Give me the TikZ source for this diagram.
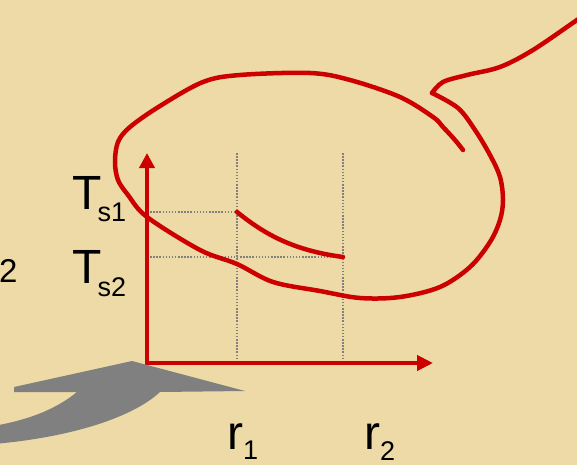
\documentclass[tikz,border=0pt]{standalone}
\usepackage{fontspec}
\setmainfont{Liberation Sans}
\usetikzlibrary{arrows.meta, positioning}
\definecolor{papyrus}{RGB}{237,218,166}
\definecolor{penred}{RGB}{204,0,0}
\definecolor{shadegray}{RGB}{128,128,128}
\newcommand{\symsub}[4]{#1\kern#4\lower#3\hbox{\fontsize{27}{27}\selectfont #2}}

\begin{document}
\begin{tikzpicture}[x=1pt, y=-1pt,
    axis/.style={line width=4.5pt, color=penred,
        {Triangle[length=15pt, width=15pt]}-{Triangle[length=16pt, width=15pt]}},
    guide/.style={line width=1.6pt, color=shadegray, dash pattern=on 1.5pt off 1.6pt},
    pen/.style={line width=4.5pt, color=penred, line cap=round, line join=round},
    lbl/.style={font=\fontsize{48}{48}\selectfont, inner sep=0pt, anchor=base west}
]
    \useasboundingbox (0,0) rectangle (577,465);
    \fill[papyrus] (0,0) rectangle (577,465);

    \coordinate (O) at (147,363);
    \coordinate (ytip) at (147,153);
    \coordinate (xtip) at (433,363);
    \coordinate (r1top) at (237,153);
    \coordinate (r1foot) at (237,363);
    \coordinate (r2top) at (343,153);
    \coordinate (r2foot) at (343,363);
    \coordinate (t1axis) at (147,212);
    \coordinate (t2axis) at (147,257);
    \coordinate (t1pt) at (237,212);
    \coordinate (t2pt) at (343,257);

    \draw[guide] (r1top) -- (r1foot);
    \draw[guide] (r2top) -- (r2foot);
    \draw[guide] (t1axis) -- (t1pt);
    \draw[guide] (t2axis) -- (t2pt);

    \draw[axis] (ytip) -- (O) -- (xtip);

    \draw[pen] (t1pt) .. controls (262,232) and (290,250) .. (t2pt);

    \draw[pen] plot[smooth, tension=0.55] coordinates {
        (463,150) (455,140) (443,127) (433,117) (400,97) (350,80) (310,73)
        (240,75) (203,82) (160,106) (130,127) (118,142) (115,162) (118,180)
        (128,195) (147,217) (200,250) (237,264) (273,282) (320,291) (360,298)
        (400,297) (440,287) (470,267) (490,242) (500,220) (503,200) (500,177)
        (490,155) (475,130) (458,108) (432,93)};
    \draw[pen] plot[smooth, tension=0.55] coordinates {
        (432,93) (443,82) (467,75) (500,67) (533,50) (577,20) (592,10)};

    \fill[shadegray] (-20,445) .. controls (60,440) and (130,420) .. (160,392)
        -- (245,391) -- (132,361) -- (14,387) -- (14,392) -- (77,392)
        .. controls (55,410) and (25,422) .. (-20,428) -- cycle;

    \node[lbl] (ts1) at (72,209) {\symsub{T}{s1}{12pt}{-4pt}};
    \node[lbl] (ts2) at (72,283) {\symsub{T}{s2}{13pt}{-4pt}};
    \node[lbl] (rone) at (227,449) {\symsub{r}{1}{10pt}{0pt}};
    \node[lbl] (rtwo) at (364,449) {\symsub{r}{2}{11pt}{0pt}};
    \node[inner sep=0pt, anchor=base west, font=\fontsize{33}{33}\selectfont] (cut2) at (-1,282) {2};
\end{tikzpicture}
\end{document}
